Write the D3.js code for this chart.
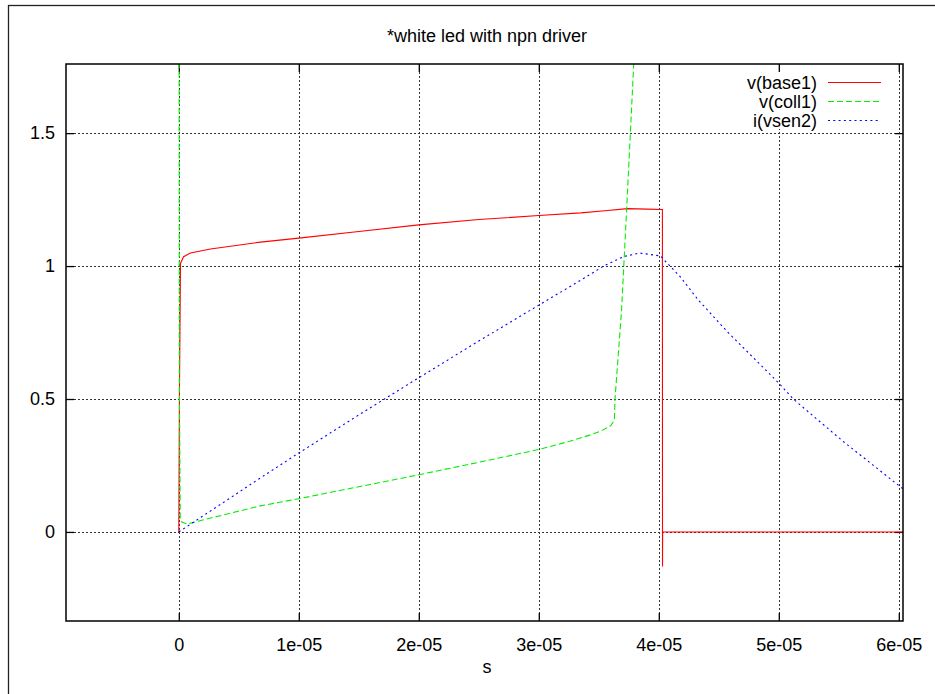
<!DOCTYPE html>
<html><head><meta charset="utf-8">
<script src="https://cdn.jsdelivr.net/npm/d3@7"></script>
<style>html,body{margin:0;padding:0;background:#fff;overflow:hidden}</style>
</head><body>
<svg id="chart" width="935" height="694"></svg>
<script>
// ---- data (time in seconds) ----
const title = "*white led with npn driver";
const xLabel = "s";
const xTicks = [0, 1e-5, 2e-5, 3e-5, 4e-5, 5e-5, 6e-5];
const xTickLabels = ["0", "1e-05", "2e-05", "3e-05", "4e-05", "5e-05", "6e-05"];
const yTicks = [0, 0.5, 1, 1.5];
const yTickLabels = ["0", "0.5", "1", "1.5"];
const seriesNames = ["v(base1)", "v(coll1)", "i(vsen2)"];

const baseT = [0, 0.005e-5, 0.014e-5, 0.04e-5, 0.097e-5, 0.264e-5, 0.68e-5, 1e-5, 1.5e-5, 2e-5, 2.5e-5, 3e-5, 3.35e-5, 3.55e-5, 3.74e-5, 3.9e-5, 4.03e-5, 4.031e-5, 4.032e-5, 6.04e-5];
const baseV = [0, 0.5, 1.01, 1.035, 1.049, 1.064, 1.09, 1.105, 1.13, 1.155, 1.175, 1.19, 1.2, 1.208, 1.216, 1.214, 1.213, -0.13, 0, 0];

const collT = [0, 0.004e-5, 0.012e-5, 0.03e-5, 0.07e-5, 0.2e-5, 0.68e-5, 1e-5, 1.5e-5, 2e-5, 2.5e-5, 3e-5, 3.25e-5, 3.43e-5, 3.52e-5, 3.6e-5, 3.63e-5, 3.635e-5, 3.69e-5, 3.74e-5, 3.79e-5, 3.82e-5];
const collV = [4.0, 0.6, 0.045, 0.036, 0.03, 0.045, 0.098, 0.125, 0.17, 0.215, 0.262, 0.31, 0.34, 0.365, 0.38, 0.40, 0.42, 0.5, 0.835, 1.286, 1.75, 2.02];

const senT = [0, 0.68e-5, 1e-5, 1.5e-5, 2e-5, 2.5e-5, 3e-5, 3.35e-5, 3.54e-5, 3.71e-5, 3.84e-5, 4.014e-5, 4.07e-5, 4.18e-5, 4.33e-5, 4.571e-5, 5e-5, 5.12e-5, 5.54e-5, 5.82e-5, 6.02e-5, 6.04e-5];
const senV = [0, 0.203, 0.297, 0.44, 0.58, 0.718, 0.853, 0.947, 1.0, 1.036, 1.049, 1.038, 1.011, 0.959, 0.872, 0.753, 0.56, 0.5, 0.339, 0.239, 0.167, 0.161];

// ---- layout ----
const svg = d3.select("#chart");
const L = 66, R = 903, T = 64, B = 621;
const x = d3.scaleLinear().domain([-0.94e-5, 6.035e-5]).range([L, R]);
const y = d3.scaleLinear().domain([-0.335, 1.76]).range([B, T]);
const FONT = "'Liberation Sans', Arial, sans-serif";
const FS = 18;

// outer border
svg.append("rect").attr("x", 8.5).attr("y", 5.5).attr("width", 1000).attr("height", 1000)
  .attr("fill", "none").attr("stroke", "#222").attr("stroke-width", 1.3);

// title
svg.append("text").attr("x", 487).attr("y", 42).attr("text-anchor", "middle")
  .attr("font-family", FONT).attr("font-size", FS).attr("fill", "#000").text(title);

// grid
const grid = svg.append("g").attr("stroke", "#333").attr("stroke-width", 1).attr("stroke-dasharray", "2,2");
xTicks.forEach(v => grid.append("line").attr("x1", Math.round(x(v)) + 0.5).attr("x2", Math.round(x(v)) + 0.5).attr("y1", T).attr("y2", B));
yTicks.forEach(v => grid.append("line").attr("y1", Math.round(y(v)) + 0.5).attr("y2", Math.round(y(v)) + 0.5).attr("x1", L).attr("x2", R));

// legend background (grid hidden under the key)
svg.append("rect").attr("x", 738).attr("y", 72).attr("width", 152).attr("height", 57).attr("fill", "#fff");

// axes (inward ticks, mirrored)
const tickLen = 8;
const axB = d3.axisBottom(x).tickValues(xTicks).tickSizeInner(-tickLen).tickSizeOuter(0).tickFormat((d, i) => xTickLabels[i]).tickPadding(17);
const axT = d3.axisTop(x).tickValues(xTicks).tickSizeInner(-tickLen).tickSizeOuter(0).tickFormat("");
const axL = d3.axisLeft(y).tickValues(yTicks).tickSizeInner(-tickLen).tickSizeOuter(0).tickFormat((d, i) => yTickLabels[i]).tickPadding(11);
const axR = d3.axisRight(y).tickValues(yTicks).tickSizeInner(-tickLen).tickSizeOuter(0).tickFormat("");
function styleAxis(g) {
  g.select(".domain").remove();
  g.selectAll(".tick line").attr("stroke", "#000").attr("stroke-width", 1.3);
  g.selectAll("text").attr("font-family", FONT).attr("font-size", FS).attr("fill", "#000");
}
svg.append("g").attr("transform", `translate(0,${B})`).call(axB).call(styleAxis);
svg.append("g").attr("transform", `translate(0,${T})`).call(axT).call(styleAxis);
svg.append("g").attr("transform", `translate(${L},0)`).call(axL).call(styleAxis);
svg.append("g").attr("transform", `translate(${R},0)`).call(axR).call(styleAxis);

// x label
svg.append("text").attr("x", 487).attr("y", 673).attr("text-anchor", "middle")
  .attr("font-family", FONT).attr("font-size", FS).attr("fill", "#000").text(xLabel);

// data
svg.append("clipPath").attr("id", "clip").append("rect").attr("x", L).attr("y", T).attr("width", R - L).attr("height", B - T);
const plot = svg.append("g").attr("clip-path", "url(#clip)");
const line = d3.line().x(d => x(d[0])).y(d => y(d[1]));
const styles = [
  { color: "#ff0000", dash: null },
  { color: "#00ee00", dash: "6,3" },
  { color: "#0000ff", dash: "2,3.3" }
];
const datasets = [d3.zip(baseT, baseV), d3.zip(collT, collV), d3.zip(senT, senV)];
datasets.forEach((ds, i) => {
  plot.append("path").datum(ds).attr("d", line).attr("fill", "none")
    .attr("stroke", styles[i].color).attr("stroke-width", 1.1)
    .attr("stroke-dasharray", styles[i].dash);
});

// border
svg.append("rect").attr("x", L).attr("y", T).attr("width", R - L).attr("height", B - T)
  .attr("fill", "none").attr("stroke", "#000").attr("stroke-width", 1.5);

// legend
const leg = svg.append("g");
seriesNames.forEach((name, i) => {
  const cy = 82.5 + i * 19;
  leg.append("text").attr("x", 817).attr("y", cy).attr("dy", "0.35em").attr("text-anchor", "end")
    .attr("font-family", FONT).attr("font-size", FS).attr("fill", "#000").text(name);
  leg.append("line").attr("x1", 828).attr("x2", 881).attr("y1", cy).attr("y2", cy)
    .attr("stroke", styles[i].color).attr("stroke-width", 1.1).attr("stroke-dasharray", styles[i].dash);
});
</script>
</body></html>
